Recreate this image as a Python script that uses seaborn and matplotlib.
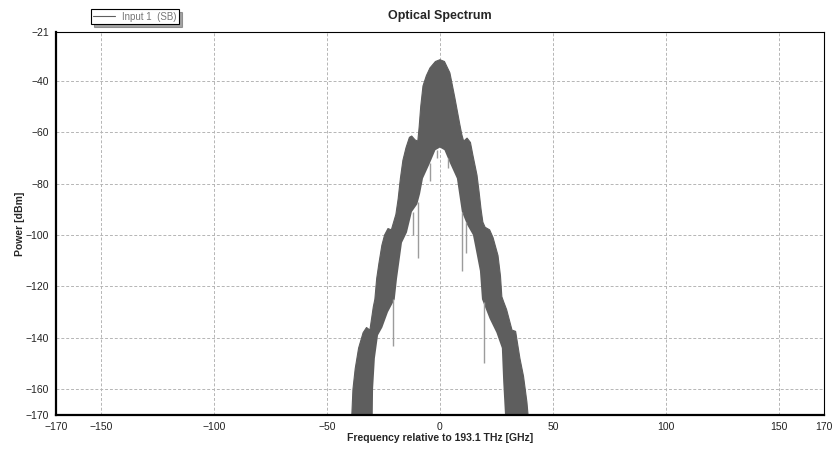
import numpy as np
import pandas as pd
import matplotlib
matplotlib.use("Agg")
import matplotlib.pyplot as plt
import seaborn as sns

# outer (upper) envelope of the optical spectrum
outer_freq = [-39.5, -39, -38.5, -37.5, -36, -34, -32.5, -31, -29.5, -28.8, -28, -27, -25.7,
              -24.5, -23, -21.5, -20.5, -19.5, -18.5, -17.5, -16.4, -15, -13.5, -12.5, -11,
              -9.8, -9.2, -8.5, -7.5, -6, -4.4, -2, 0, 2, 4.4, 6.6, 8.8, 9.7, 10.5, 12, 13.5,
              14.6, 16.4, 17.3, 18.2, 19, 20, 22, 23.5, 25.7, 26.8, 27.4, 28.2, 29.5, 31.9,
              33.5, 35.4, 37, 38.5, 39, 39.5]
outer_pow = [-175, -170, -160, -152, -144, -138, -136, -137, -128, -125, -117, -111, -104,
             -100, -97.5, -98, -95, -92, -86, -78, -71, -66, -62, -61.5, -63,
             -63.5, -58, -50, -42, -38, -35, -32.5, -31.8, -32.5, -36.9, -46.6, -57, -61, -63.5, -62.3, -64,
             -69, -76.7, -83, -90, -95, -97, -98, -101, -108, -116, -124, -126, -129, -137,
             -137.5, -148, -155, -165, -170, -175]

# inner (lower) envelope, the white notch inside the spectrum
inner_freq = [-29.8, -29.6, -28.8, -27.4, -25.5, -23, -20, -19, -16.8, -14.6, -12.4, -10,
              -8.8, -7.5, -4.4, -2, 0, 2, 4.4, 7.5, 9.7, 12, 14.6, 15.5, 17.7, 18.6, 22,
              25, 27.4, 28, 28.8, 29]
inner_pow = [-175, -160, -148, -139, -136, -130, -125, -117, -103, -99, -91, -88,
             -84, -78, -72, -67, -66, -67, -72, -78, -91, -96, -100, -104, -114, -125, -132.6,
             -138, -144, -157, -170, -175]

# light hairline spikes hanging below the inner edge
spike_freq = [-20.8, -12, -9.7, -4.4, -1.3, 3.5, 9.7, 11.5, 19.5]
spike_top = [-125, -91, -87, -72, -67, -70, -91, -95, -126]
spike_bottom = [-143, -100, -109, -79, -70, -74, -114, -107, -150]

xticks = [-170, -150, -100, -50, 0, 50, 100, 150, 170]
yticks = [-21, -40, -60, -80, -100, -120, -140, -160, -170]

outer = pd.DataFrame({"freq": outer_freq, "power": outer_pow})
inner = pd.DataFrame({"freq": inner_freq, "power": inner_pow})

sns.set_theme(style="white")
plt.rcParams["font.family"] = ["Liberation Sans", "DejaVu Sans"]

fig = plt.figure(figsize=(8.34, 4.5), dpi=100)
ax = fig.add_axes([0.067, 0.078, 0.921, 0.851])

gray = "#5e5e5e"
# band between outer envelope and inner notch
poly_x = np.r_[outer["freq"].values, inner["freq"].values[::-1]]
poly_y = np.r_[outer["power"].values, inner["power"].values[::-1]]
ax.fill(poly_x, poly_y, color=gray, linewidth=0)
sns.lineplot(data=outer, x="freq", y="power", ax=ax, color=gray, linewidth=0.8,
             label="Input 1  (SB)", legend=False)
ax.vlines(spike_freq, spike_bottom, spike_top, color="#9c9c9c", linewidth=1)

ax.set_xlim(-170, 170)
ax.set_ylim(-170, -21)
ax.set_xticks(xticks)
ax.set_yticks(yticks)
ax.tick_params(axis="both", labelsize=7.5, length=0, pad=5, colors="#222222")

for v in [-150, -100, -50, 0, 50, 100, 150]:
    ax.axvline(v, color="#b5b5b5", linestyle=(0, (3, 2)), linewidth=0.7, zorder=0)
for v in [-40, -60, -80, -100, -120, -140, -160]:
    ax.axhline(v, color="#b5b5b5", linestyle=(0, (3, 2)), linewidth=0.7, zorder=0)

for side in ["left", "bottom"]:
    ax.spines[side].set_linewidth(1.6)
    ax.spines[side].set_color("black")
for side in ["top", "right"]:
    ax.spines[side].set_linewidth(0.8)
    ax.spines[side].set_color("black")

ax.set_title("Optical Spectrum", fontsize=9, fontweight="bold", pad=9)
ax.set_xlabel("Frequency relative to 193.1 THz [GHz]", fontsize=7.5, fontweight="bold", labelpad=1)
ax.set_ylabel("Power [dBm]", fontsize=7.5, fontweight="bold", labelpad=0)

h, l = ax.get_legend_handles_labels()
leg = fig.legend(h, l, loc="upper left", bbox_to_anchor=(0.103, 0.99), fontsize=7,
                 frameon=True, fancybox=False, shadow=True, edgecolor="black",
                 handlelength=2.2, borderpad=0.25, labelcolor="#777777")
leg.get_frame().set_linewidth(0.8)

fig.savefig("out.png", dpi=100)
